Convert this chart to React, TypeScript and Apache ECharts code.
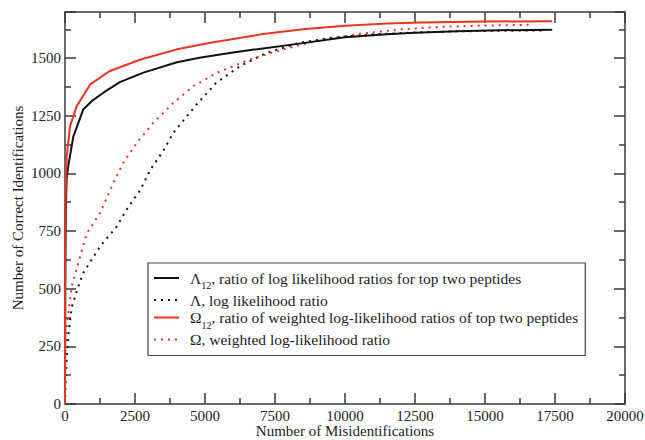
import React, { useEffect, useRef } from "react";
import * as echarts from "echarts";

// Λ12 — ratio of log likelihood ratios for top two peptides
const lambda12X = [0, 10, 30, 60, 120, 300, 650, 1000, 1370, 1960, 2800, 4000, 4800, 6000, 7000, 8500, 10000, 11500, 12500, 14000, 15500, 17400];
const lambda12Y = [0, 500, 850, 980, 1035, 1161, 1277, 1318, 1350, 1396, 1437, 1482, 1502, 1524, 1541, 1565, 1590, 1603, 1610, 1617, 1621, 1623];

// Λ — log likelihood ratio
const lambdaX = [0, 20, 60, 120, 240, 450, 650, 1250, 1850, 2200, 2700, 3050, 3500, 3870, 4350, 4700, 5400, 6250, 7200, 8400, 9500, 11000, 12500, 14000, 15500, 17100];
const lambdaY = [0, 100, 190, 300, 420, 500, 568, 683, 770, 843, 930, 1017, 1096, 1176, 1248, 1299, 1393, 1465, 1523, 1567, 1588, 1603, 1611, 1616, 1619, 1620];

// Ω12 — ratio of weighted log-likelihood ratios of top two peptides
const omega12X = [0, 5, 20, 60, 180, 420, 900, 1600, 2700, 4000, 5200, 7000, 8500, 10000, 11500, 12700, 15000, 17400];
const omega12Y = [0, 700, 900, 1074, 1205, 1292, 1386, 1444, 1494, 1538, 1567, 1603, 1625, 1640, 1650, 1655, 1659, 1660];

// Ω — weighted log-likelihood ratio
const omegaX = [0, 20, 60, 240, 540, 780, 1250, 1730, 2080, 2560, 3150, 3870, 4580, 5420, 6600, 7800, 9000, 10500, 12000, 13500, 15400, 16700];
const omegaY = [0, 200, 336, 510, 640, 741, 828, 959, 1046, 1132, 1219, 1306, 1378, 1436, 1494, 1538, 1575, 1605, 1625, 1636, 1642, 1645];

const xTicks = { min: 0, max: 20000, interval: 2500 };
const yTicks = { min: 0, max: 1700, interval: 250 };

const seriesNames = [
  "Λ12, ratio of log likelihood ratios for top two peptides",
  "Λ, log likelihood ratio",
  "Ω12, ratio of weighted log-likelihood ratios of top two peptides",
  "Ω, weighted log-likelihood ratio",
];

const pairs = (xs: number[], ys: number[]) => xs.map((x, i) => [x, ys[i]]);

const FONT = "'Liberation Serif', 'DejaVu Serif', serif";
const AXIS_COLOR = "#3a3a3a";
const RED = "#e8351f";

export default function App() {
  const ref = useRef<HTMLDivElement>(null);

  useEffect(() => {
    if (!ref.current) return;
    const chart = echarts.init(ref.current, undefined, { renderer: "svg" });

    const axisCommon = {
      type: "value" as const,
      axisLine: { show: true, onZero: false, lineStyle: { color: AXIS_COLOR, width: 1.5 } },
      axisTick: { show: true, inside: true, length: 11, lineStyle: { color: AXIS_COLOR, width: 1.5 } },
      minorTick: { show: true, splitNumber: 2, length: 6, lineStyle: { color: AXIS_COLOR, width: 1.5 } },
      splitLine: { show: false },
    };

    const labelStyle = {
      fontFamily: FONT,
      fontSize: 15,
      color: "#222",
      formatter: (v: number) => String(v),
    };

    chart.setOption({
      animation: false,
      backgroundColor: "#fff",
      grid: { left: 65, right: 20, top: 12, bottom: 36, containLabel: false, outerBoundsMode: "none" },
      xAxis: [
        {
          ...axisCommon,
          ...xTicks,
          position: "bottom",
          name: "Number of Misidentifications",
          nameLocation: "middle",
          nameGap: 21,
          nameMoveOverlap: false,
          nameTextStyle: { fontFamily: FONT, fontSize: 15, color: "#222", lineHeight: 12 },
          axisLabel: { ...labelStyle, margin: 6, lineHeight: 12, showMaxLabel: true },
        },
        {
          ...axisCommon,
          ...xTicks,
          position: "top",
          axisLabel: { show: false },
        },
      ],
      yAxis: [
        {
          ...axisCommon,
          ...yTicks,
          position: "left",
          name: "Number of Correct Identifications",
          nameLocation: "middle",
          nameGap: 40,
          nameMoveOverlap: false,
          nameTextStyle: { fontFamily: FONT, fontSize: 15, color: "#222" },
          axisLabel: { ...labelStyle, margin: 4, showMaxLabel: false },
        },
        {
          ...axisCommon,
          ...yTicks,
          position: "right",
          axisLabel: { show: false },
        },
      ],
      legend: {
        data: seriesNames,
        orient: "vertical",
        left: 148,
        top: 263,
        padding: [7, 7, 8, 5],
        itemGap: 1.5,
        itemWidth: 25,
        itemHeight: 14,
        borderColor: "#444",
        borderWidth: 1.2,
        backgroundColor: "#fff",
        itemStyle: { opacity: 0 },
        textStyle: {
          fontFamily: FONT,
          fontSize: 15.5,
          color: "#222",
          padding: [0, 0, 0, 6],
          rich: {
            t: { fontFamily: FONT, fontSize: 15.5, color: "#222", lineHeight: 17 },
            sub: { fontFamily: FONT, fontSize: 10, color: "#222", verticalAlign: "bottom", lineHeight: 17, padding: [0, 0, -4, 0] },
          },
        },
        formatter: (name: string) => {
          const m = name.match(/^(.)(12)?(.*)$/);
          if (!m) return name;
          return m[2] ? `{t|${m[1]}}{sub|${m[2]}}{t|${m[3]}}` : `{t|${name}}`;
        },
      },
      series: [
        {
          name: seriesNames[1],
          type: "line",
          data: pairs(lambdaX, lambdaY),
          showSymbol: false,
          symbol: "none",
          color: "#111",
          lineStyle: { color: "#111", width: 2, type: [2, 5] },
        },
        {
          name: seriesNames[3],
          type: "line",
          data: pairs(omegaX, omegaY),
          showSymbol: false,
          symbol: "none",
          color: RED,
          lineStyle: { color: RED, width: 2, type: [2, 5] },
        },
        {
          name: seriesNames[0],
          type: "line",
          data: pairs(lambda12X, lambda12Y),
          showSymbol: false,
          symbol: "none",
          color: "#111",
          lineStyle: { color: "#111", width: 2 },
        },
        {
          name: seriesNames[2],
          type: "line",
          data: pairs(omega12X, omega12Y),
          showSymbol: false,
          symbol: "none",
          color: RED,
          lineStyle: { color: RED, width: 2 },
        },
      ],
    });

    return () => chart.dispose();
  }, []);

  return <div ref={ref} style={{ width: 645, height: 440, position: "absolute", left: 0, top: 0 }} />;
}
